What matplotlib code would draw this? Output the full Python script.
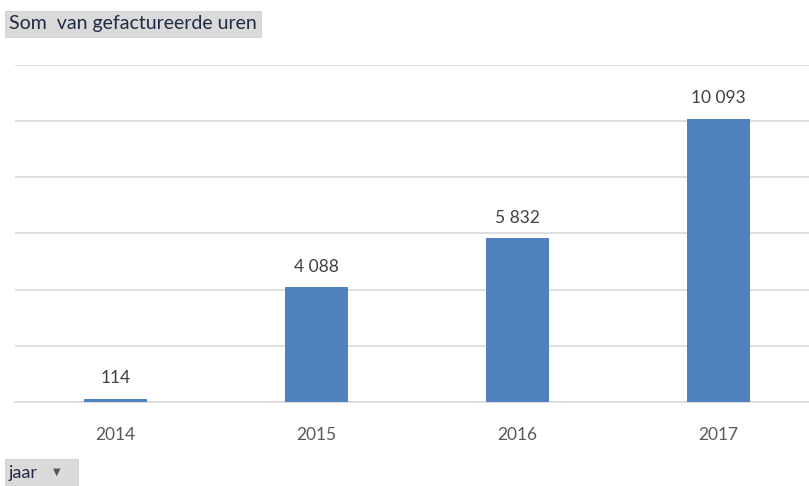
import matplotlib.pyplot as plt
from matplotlib.patches import FancyBboxPatch

plt.rcParams['font.family'] = ['Lato', 'DejaVu Sans']

years = ["2014", "2015", "2016", "2017"]
hours = [114, 4088, 5832, 10093]
y_ticks = [0, 2000, 4000, 6000, 8000, 10000, 12000]

bar_color = "#4F81BD"
grid_color = "#D9D9D9"
text_color = "#595959"

fig = plt.figure(figsize=(8.09, 4.86), dpi=100)
ax = fig.add_axes([15 / 809, 84 / 486, 804 / 809, 337 / 486])

x = range(len(years))
bars = ax.bar(x, hours, width=0.31, color=bar_color, zorder=3)

for b, v in zip(bars, hours):
    label = f"{v:,}".replace(",", " ")
    ax.annotate(label, (b.get_x() + b.get_width() / 2, v), xytext=(0, 9),
                textcoords="offset points", ha="center", va="bottom",
                fontsize=12.5, color="#404040")

ax.set_xlim(-0.5, 3.5)
ax.set_ylim(0, 12000)
ax.set_yticks(y_ticks)
ax.set_yticklabels([])
ax.set_xticks(list(x))
ax.set_xticklabels(years, fontsize=12.5, color=text_color)
ax.tick_params(axis="both", length=0)
ax.tick_params(axis="x", pad=18)
ax.grid(axis="y", color=grid_color, lw=1.2, zorder=0)
for s in ["top", "right", "left"]:
    ax.spines[s].set_visible(False)
ax.spines["bottom"].set_color(grid_color)
ax.spines["bottom"].set_linewidth(1.2)


# pivot chart field buttons
def field_button(x0, y0, w, h, text, size):
    box = FancyBboxPatch((x0 / 809, 1 - (y0 + h) / 486), w / 809, h / 486,
                         boxstyle="square,pad=0", transform=fig.transFigure,
                         facecolor="#DADADA", edgecolor="#D0D0D0", lw=0.6)
    fig.add_artist(box)
    return fig.text((x0 + 4) / 809, 1 - (y0 + h / 2) / 486, text, ha="left",
                    va="center", fontsize=size, color="#1F2A44")


field_button(5, 11, 256, 26, "Som  van gefactureerde uren", 14)
field_button(5, 459, 73, 27, "jaar", 13)
fig.text(57 / 809, 1 - 472 / 486, "▼", ha="center", va="center",
         fontsize=7, color="#555555")

fig.savefig("out.png", dpi=100)
